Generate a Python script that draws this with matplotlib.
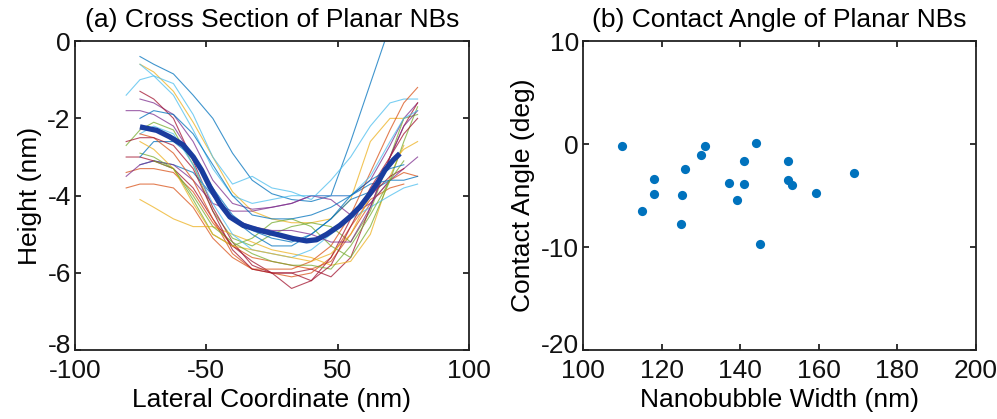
import numpy as np
import matplotlib
matplotlib.use("Agg")
import matplotlib.pyplot as plt
from matplotlib.transforms import ScaledTranslation

plt.rcParams['font.family'] = ['Liberation Sans', 'DejaVu Sans']
plt.rcParams['axes.unicode_minus'] = False

# (a) cross sections, sampled on a common lateral grid (nm); nan = no data
lateral = [-74, -67, -60, -50, -40, -30, -20, -10, 0, 10, 20, 30, 40, 50, 60, 67, 74]
nan = np.nan
profiles = [
    [nan, -0.4, -0.6, -0.85, -1.4, -2.0, -2.9, -3.6, -3.95, -4.1, -4.15, -4.0, -2.6, -1.1, 0.4, nan, nan],
    [-3.4, -3.3, -3.3, -3.4, -3.9, -4.7, -5.3, -5.6, -5.7, -5.8, -5.9, -5.7, -5.0, -4.2, -3.6, -3.4, -3.5],
    [nan, -0.6, -0.8, -1.3, -2.1, -3.0, -3.9, -4.4, -4.6, -4.7, -4.7, -4.6, -4.1, -2.6, -2.0, -2.0, nan],
    [nan, -1.5, -1.6, -1.9, -2.6, -3.6, -4.2, -4.35, -4.3, -4.2, -4.0, -4.0, -4.0, -3.6, -2.7, -2.0, -1.6],
    [-2.7, -2.3, -2.1, -2.3, -3.2, -4.4, -5.1, -5.3, -5.0, -4.8, -4.7, -4.8, -5.2, -4.4, -3.0, -2.0, -1.9],
    [-1.4, -1.0, -0.9, -1.1, -1.9, -3.0, -3.7, -3.5, -3.8, -3.9, -4.1, -3.6, -3.0, -2.2, -1.6, -1.5, -1.5],
    [nan, -1.3, -1.5, -2.0, -3.1, -4.3, -5.2, -5.8, -6.0, -6.0, -5.9, -6.1, -5.6, -4.3, -3.0, -2.2, -1.6],
    [nan, -3.2, -3.1, -3.2, -3.4, -4.0, -4.6, -5.0, -5.3, -5.3, -5.0, -4.6, -4.1, -3.9, -3.6, nan, nan],
    [-3.8, -3.7, -3.7, -3.8, -4.3, -5.1, -5.6, -5.9, -6.0, -6.1, -6.0, -5.6, -4.8, -4.1, -3.8, -3.7, nan],
    [nan, -4.1, -4.3, -4.6, -4.8, -4.8, -5.0, -5.2, -5.4, -5.5, -5.6, -5.8, -5.7, -5.0, -3.5, -2.7, nan],
    [-3.5, -3.2, -3.1, -3.2, -3.6, -4.2, -4.4, -4.4, -4.3, -4.2, -4.0, -4.1, -4.5, -4.2, -3.6, -3.3, -3.0],
    [nan, -2.9, -3.0, -3.3, -4.1, -5.0, -5.3, -5.1, -4.7, -4.6, -4.8, -5.3, -5.6, -4.8, -3.6, -2.6, -1.7],
    [nan, -2.4, -2.2, -2.4, -3.2, -4.2, -5.0, -5.4, -5.5, -5.6, -5.4, -5.0, -4.6, -4.3, -4.0, -3.8, -3.7],
    [-3.0, -3.0, -3.1, -3.3, -3.8, -4.6, -5.3, -5.7, -6.0, -6.4, -6.2, -5.6, -4.6, -4.0, -3.5, -3.3, nan],
    [nan, -3.0, -2.6, -2.6, -3.0, -3.8, -4.5, -4.9, -5.1, -5.2, -5.0, -4.6, -4.0, -3.7, -3.6, -3.6, -3.5],
    [nan, -2.4, -2.5, -2.9, -3.6, -4.6, -5.5, -5.9, -5.9, -5.9, -5.7, -5.3, -4.5, -3.4, -2.3, -1.6, -1.2],
    [nan, -2.6, -2.8, -3.3, -4.2, -5.0, -5.3, -5.4, -5.5, -5.6, -5.7, -5.5, -5.0, -4.0, -3.2, -2.8, -2.6],
    [-1.8, -1.8, -1.9, -2.2, -3.0, -4.0, -4.6, -4.8, -4.9, -4.9, -5.0, -5.2, -5.2, -4.3, -3.0, -2.2, -1.8],
    [nan, nan, -3.1, -3.3, -4.0, -4.8, -5.2, -5.5, -5.7, -5.8, -5.8, -5.9, -5.3, -4.5, -3.6, -3.1, nan],
    [nan, -0.6, -0.9, -1.4, -2.3, -3.3, -4.0, -4.2, -4.1, -4.0, -4.0, -4.0, -4.0, -3.5, -2.6, -2.0, -1.8],
    [-2.6, -2.5, -2.5, -2.7, -3.3, -4.4, -5.4, -5.9, -6.0, -6.0, -6.2, -5.8, -4.8, -3.8, -3.0, -2.4, -2.0],
    [nan, -2.0, -1.8, -1.9, -2.4, -3.2, -4.0, -4.5, -4.6, -4.6, -4.5, -4.3, -4.0, -3.6, -3.3, -3.2, nan],
]

# averaged profile
mean_x = [-67.0, -58.5, -51.8, -45.0, -39.9, -35.7, -31.5, -26.4, -21.3, -14.5, -6.1, 2.4,
          10.8, 17.6, 22.7, 27.8, 34.5, 39.6, 44.7, 49.8, 54.0, 57.4, 61.6, 65.0]
mean_y = [-2.22, -2.31, -2.48, -2.69, -3.00, -3.34, -3.77, -4.21, -4.55, -4.77, -4.90, -5.00,
          -5.11, -5.17, -5.14, -5.00, -4.77, -4.55, -4.29, -3.95, -3.64, -3.34, -3.08, -2.91]

# (b) contact angle vs width
width_nm = [109.9, 115.1, 118.1, 118.1, 125.1, 125.0, 126.0, 130.1, 131.0, 137.1,
            139.2, 141.0, 141.0, 144.0, 145.1, 152.1, 152.1, 153.3, 159.2, 169.1]
angle_deg = [-0.2, -6.5, -3.4, -4.8, -4.9, -7.7, -2.4, -1.06, -0.2, -3.75,
             -5.4, -1.6, -3.9, 0.1, -9.7, -1.6, -3.5, -4.0, -4.7, -2.8]

matlab_colors = ['#0072BD', '#D95319', '#EDB120', '#7E2F8E', '#77AC30', '#4DBEEE', '#A2142F']
FS = 19


def style_axes(ax):
    for s in ax.spines.values():
        s.set_linewidth(1.3)
        s.set_color('#222222')
    ax.tick_params(direction='in', top=True, right=True, length=4, width=1.3,
                   labelsize=FS, colors='#222222', labelcolor='#111111')
    ax.tick_params(axis='x', pad=6)
    ax.tick_params(axis='y', pad=3)


def lift_bottom_label(ax, fig):
    # nudge the lowest y tick label up so it clears the first x tick label
    lab = ax.get_yticklabels()[0]
    lab.set_transform(lab.get_transform() + ScaledTranslation(0, 5 / 72, fig.dpi_scale_trans))


fig = plt.figure(figsize=(9.97, 4.19), dpi=100)
ax1 = fig.add_axes([0.0752, 0.164, 0.395, 0.738])
ax2 = fig.add_axes([0.5848, 0.164, 0.394, 0.738])

for i, prof in enumerate(profiles):
    ax1.plot(lateral, prof, color=matlab_colors[i % 7], lw=0.8, alpha=0.75)
ax1.plot(mean_x, mean_y, color='#1a3c9e', lw=3.8, solid_capstyle='butt')
ax1.set_xlim(-100, 100)
ax1.set_ylim(-8, 0)
ax1.set_xticks([-100, -100 / 3, 100 / 3, 100])
ax1.set_xticklabels(['-100', '-50', '50', '100'])
ax1.set_yticks([-8, -6, -4, -2, 0])
ax1.set_xlabel('Lateral Coordinate (nm)', fontsize=FS, labelpad=4)
ax1.set_ylabel('Height (nm)', fontsize=FS, labelpad=4)
ax1.set_title('(a) Cross Section of Planar NBs', fontsize=FS, pad=10)
style_axes(ax1)

ax2.scatter(width_nm, angle_deg, s=44, color='#0072BD', marker='o', linewidths=0)
ax2.set_xlim(100, 200)
ax2.set_ylim(-20, 10)
ax2.set_xticks([100, 120, 140, 160, 180, 200])
ax2.set_yticks([-20, -10, 0, 10])
ax2.set_xlabel('Nanobubble Width (nm)', fontsize=FS, labelpad=4)
ax2.set_ylabel('Contact Angle (deg)', fontsize=FS, labelpad=4)
ax2.set_title('(b) Contact Angle of Planar NBs', fontsize=FS, pad=10)
style_axes(ax2)

lift_bottom_label(ax1, fig)
lift_bottom_label(ax2, fig)

fig.savefig('out.png', dpi=100)
